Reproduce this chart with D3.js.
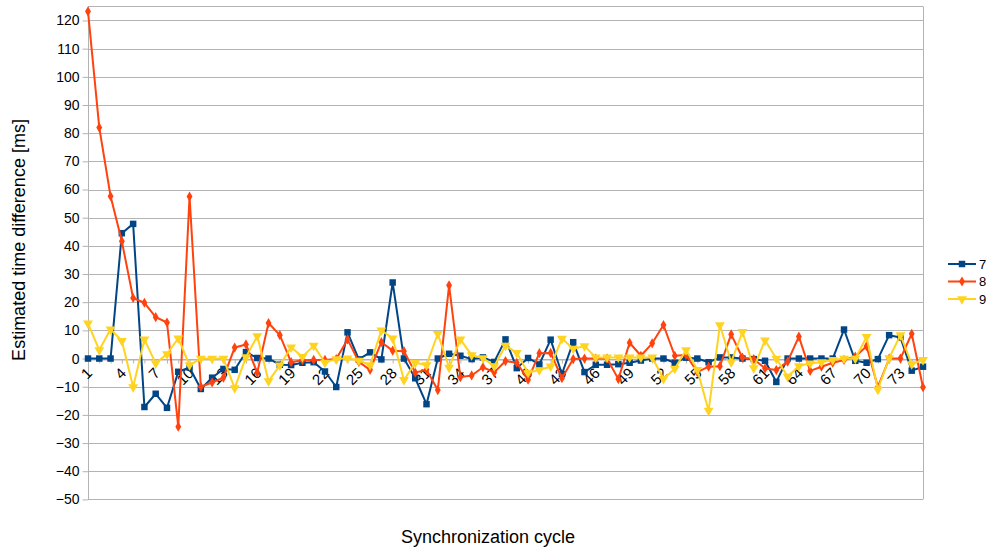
<!DOCTYPE html>
<html>
<head>
<meta charset="utf-8">
<script src="https://cdn.jsdelivr.net/npm/d3@7"></script>
<style>
  html, body { margin: 0; padding: 0; background: #fff; }
  svg { display: block; font-family: "Liberation Sans", Arial, sans-serif; }
</style>
</head>
<body>
<svg id="chart" width="992" height="550"></svg>
<script>
const categories = d3.range(1, 76).map(String);
const xTickLabels = d3.range(1, 76, 3).map(String);
const yTicks = d3.range(-50, 121, 10);
const seriesNames = ["7", "8", "9"];
const seriesColors = ["#004586", "#ff420e", "#ffd320"];

const s7 = [0, 0, 0, 44.5, 47.8, -17.2, -12.5, -17.5, -4.7, -3.2,
  -10.8, -6.8, -3.7, -4, 2.3, 0.2, 0, -2.2, -2.3, -1.5,
  -1.3, -4.6, -10.1, 9.3, -0.3, 2.2, -0.3, 27, 0, -7,
  -16.2, 0, 1.7, 1, -0.2, 0.4, -1.2, 6.8, -3.4, 0.2,
  -2.1, 6.7, -5.5, 5.8, -4.8, -2.2, -2.2, -2, -1.5, -0.7,
  0, 0, -1.5, 0.3, 0, -1.3, 0.4, 0.4, 0, -0.2,
  -0.8, -8.3, 0, 0, 0, 0, 0, 10.3, -0.8, -1.5,
  -0.2, 8.3, 7.5, -4.3, -2.9];
const s8 = [123.2, 82, 57.6, 41.6, 21.5, 19.8, 14.7, 12.8, -24.2, 57.5,
  -10, -8.5, -6.8, 3.9, 5, -5, 12.6, 8.3, -1.3, -0.6,
  -0.5, -0.5, -0.2, 6.8, -1.2, -4, 5.8, 2.8, 2.6, -5,
  -4, -11.2, 26, -6.6, -6, -3.1, -4.9, -0.9, -1.5, -7.5,
  1.9, 2, -7, -0.2, 0, 0, 0, -7.3, 5.6, 1,
  5.4, 11.9, 1, 1.3, -4.8, -2.9, -2.7, 8.6, 0.3, -0.2,
  -3.5, -4.1, -1.1, 7.8, -4.4, -2.9, -1.5, -0.5, 0.7, 4.4,
  -10.1, 0, 0, 8.8, -10.2];
const s9 = [12.5, 3, 10.4, 6.3, -10.1, 6.8, -1.7, 1.6, 7.2, -2.3,
  0, 0, 0, -10.5, 0.5, 8, -8, -2.4, 4, 0.6,
  4.6, -1.4, -0.2, 0.1, -0.7, -2.3, 10, 7.2, -7.6, -1.5,
  -2.3, 8.8, -3.2, 6.8, 1.2, 0.2, -2.7, 4.6, 2, -5,
  -4.1, -2.8, 7.1, 3.5, 4.4, 0.4, 0.4, 0.4, 0.4, 0.4,
  0.4, -7.2, -3.6, 3, -4, -18.5, 11.9, -1.3, 9.5, -3.4,
  6.5, 0, -6.4, -2.7, -1.7, -1.3, -0.5, 0, 0, 7.7,
  -11, 0.2, 8.3, -2, -0.5];
const seriesValues = [s7, s8, s9];

const svg = d3.select("#chart");
const plotLeft = 88, plotRight = 923, plotTop = 6.4, plotBottom = 499.4;

const x = d3.scalePoint().domain(categories).range([plotLeft, plotRight]);
const y = d3.scaleLinear().domain([-50, 125]).range([plotBottom, plotTop]);

const grid = "#b3b3b3";

// horizontal gridlines
svg.append("g").selectAll("line").data(yTicks).join("line")
  .attr("x1", plotLeft).attr("x2", plotRight)
  .attr("y1", d => Math.round(y(d)) + 0.5).attr("y2", d => Math.round(y(d)) + 0.5)
  .attr("stroke", grid).attr("stroke-width", 1);
// frame top & right
svg.append("line").attr("x1", plotLeft).attr("x2", plotRight)
  .attr("y1", Math.round(plotTop) + 0.5).attr("y2", Math.round(plotTop) + 0.5).attr("stroke", grid);
svg.append("line").attr("x1", plotRight + 0.5).attr("x2", plotRight + 0.5)
  .attr("y1", plotTop).attr("y2", plotBottom).attr("stroke", grid);

// y axis
const yAxis = d3.axisLeft(y).tickValues(yTicks).tickSize(6).tickPadding(3).tickSizeOuter(0);
const gy = svg.append("g").attr("transform", `translate(${plotLeft + 0.5},0)`).call(yAxis);
gy.select(".domain").attr("stroke", grid).attr("d", `M0,${plotTop}V${plotBottom}`);
gy.selectAll(".tick line").attr("stroke", grid);
gy.selectAll(".tick text").attr("font-size", 14).attr("fill", "#000")
  .attr("font-family", "Liberation Sans, Arial, sans-serif");

// x axis at zero
const y0 = Math.round(y(0)) + 0.5;
const xAxis = d3.axisBottom(x).tickValues(categories).tickSize(4).tickSizeOuter(0)
  .tickFormat(d => xTickLabels.includes(d) ? d : "");
const gx = svg.append("g").attr("transform", `translate(0,${y0})`).call(xAxis);
gx.select(".domain").attr("stroke", grid);
gx.selectAll(".tick line").attr("stroke", grid);
gx.selectAll(".tick text")
  .attr("font-size", 15).attr("fill", "#000")
  .attr("font-family", "Liberation Sans, Arial, sans-serif")
  .attr("text-anchor", "end")
  .attr("y", 0).attr("dy", "0.35em")
  .attr("transform", "translate(1,11) rotate(-45)");

// series
const markers = [d3.symbolSquare, d3.symbolDiamond, d3.symbolTriangle];
const markerSizes = [42, 30, 42];
seriesValues.forEach((vals, si) => {
  const line = d3.line().x((d, i) => x(categories[i])).y(d => y(d));
  svg.append("path").datum(vals)
    .attr("d", line).attr("fill", "none")
    .attr("stroke", seriesColors[si]).attr("stroke-width", 2)
    .attr("stroke-linejoin", "round");
  const sym = d3.symbol().type(markers[si]).size(markerSizes[si]);
  svg.append("g").selectAll("path").data(vals).join("path")
    .attr("d", sym)
    .attr("transform", (d, i) => `translate(${x(categories[i])},${y(d)})` + (si === 2 ? " rotate(180)" : ""))
    .attr("fill", seriesColors[si]);
});

// legend
const legY = [264, 281.5, 299];
seriesNames.forEach((name, si) => {
  const g = svg.append("g").attr("transform", `translate(0,${legY[si]})`);
  g.append("line").attr("x1", 948).attr("x2", 976).attr("y1", 0).attr("y2", 0)
    .attr("stroke", seriesColors[si]).attr("stroke-width", 2);
  g.append("path").attr("d", d3.symbol().type(markers[si]).size(markerSizes[si]))
    .attr("transform", `translate(962,0)` + (si === 2 ? " rotate(180)" : ""))
    .attr("fill", seriesColors[si]);
  g.append("text").attr("x", 979).attr("y", 0).attr("dy", "0.35em")
    .attr("font-size", 13).attr("fill", "#000").text(name);
});

// axis titles
svg.append("text").attr("transform", "translate(25,240) rotate(-90)")
  .attr("text-anchor", "middle").attr("font-size", 18).attr("fill", "#000")
  .text("Estimated time difference [ms]");
svg.append("text").attr("x", 488).attr("y", 543)
  .attr("text-anchor", "middle").attr("font-size", 18).attr("fill", "#000")
  .text("Synchronization cycle");
</script>
</body>
</html>
